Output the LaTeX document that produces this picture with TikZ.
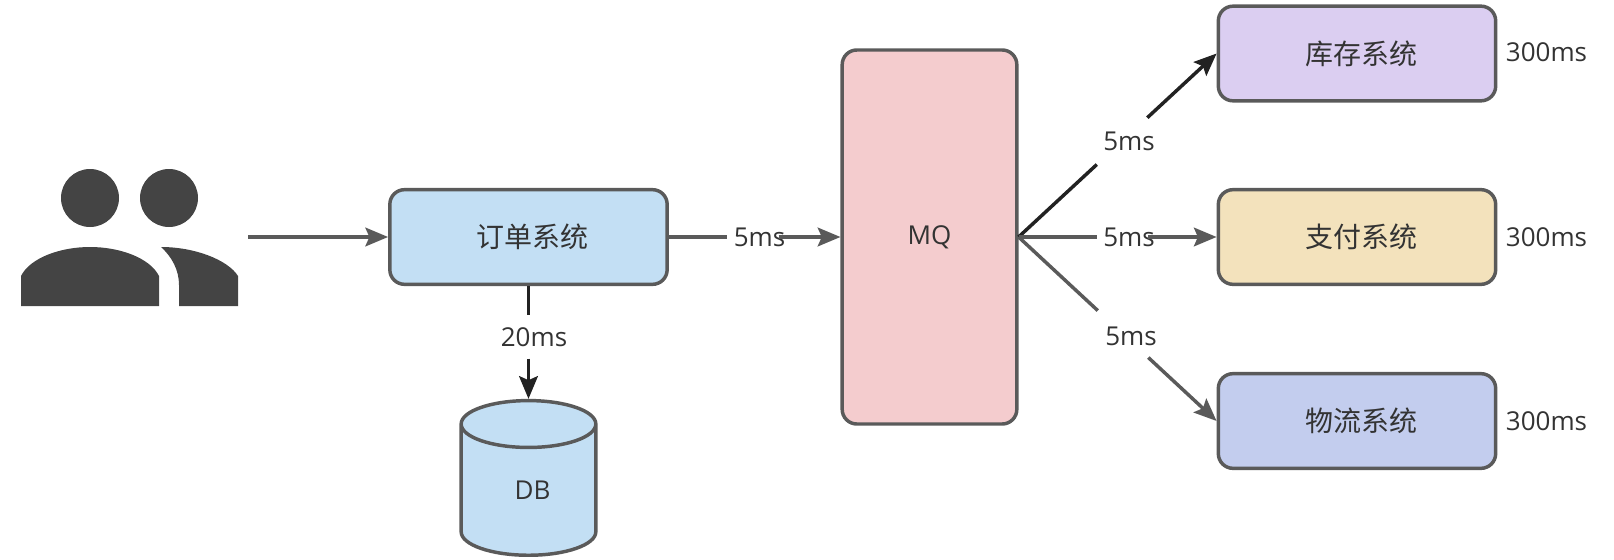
\documentclass[tikz,border=0pt]{standalone}
\usepackage{fontspec}
\setmainfont{Open Sans}
\newfontfamily\cjk{Noto Sans CJK SC}
\usepackage{tikz}
\usetikzlibrary{shapes.geometric, arrows.meta, positioning, calc}
\usepackage{xcolor}
\definecolor{edgegray}{RGB}{90,90,90}
\definecolor{linedark}{RGB}{34,34,34}
\definecolor{textdark}{RGB}{51,51,51}
\definecolor{icongray}{RGB}{68,68,68}
\definecolor{sysblue}{RGB}{195,223,244}
\definecolor{mqpink}{RGB}{244,204,206}
\definecolor{syspurple}{RGB}{219,206,241}
\definecolor{sysyellow}{RGB}{243,226,188}
\definecolor{sysperi}{RGB}{195,205,238}
\tikzset{
  sysbox/.style={draw=edgegray,line width=2.6pt,rounded corners=11pt,minimum width=208pt,minimum height=71pt,inner sep=0pt,text=textdark,font=\fontsize{21}{24}\selectfont\cjk},
  timelabel/.style={text=textdark,font=\fontsize{19.5}{22}\selectfont,inner sep=0pt,outer sep=5pt},
  flow/.style={edgegray,line width=2.6pt,-{Stealth[length=17pt,width=14pt,inset=3pt]}},
  flowplain/.style={edgegray,line width=2.6pt},
}
\begin{document}
\begin{tikzpicture}[x=0.75pt, y=-0.75pt]
        \useasboundingbox (0,0) rectangle (1614,560);
        % Users icon
        \fill[icongray] (90,198) circle (29);
        \fill[icongray] (169,198) circle (29);
        \fill[icongray] (21,306) -- (21,276) .. controls (30,258) and (60,247) .. (90,247)
          .. controls (120,247) and (150,258) .. (159,276) -- (159,306) -- cycle;
        \fill[icongray] (161,247) .. controls (195,247) and (228,260) .. (238,276) -- (238,306)
          -- (179,306) -- (179,285) .. controls (179,270) and (172,257) .. (161,247) -- cycle;
        \coordinate (users) at (248,237);
        % Boxes
        \node[sysbox,fill=sysblue] (order) at (528.5,237) {\hspace*{6pt}订单系统};
        \node[sysbox,fill=mqpink,minimum width=131pt,minimum height=280.5pt,font=\fontsize{19.5}{22}\selectfont] (mq) at (929.5,237) {MQ};
        \node[sysbox,fill=syspurple] (stock) at (1357,53.5) {\hspace*{6pt}库存系统};
        \node[sysbox,fill=sysyellow] (pay) at (1357,237) {\hspace*{6pt}支付系统};
        \node[sysbox,fill=sysperi] (ship) at (1357,421) {\hspace*{6pt}物流系统};
        % Database
        \node[draw=edgegray,line width=2.6pt,fill=sysblue,cylinder,shape border rotate=90,aspect=1.07,
          minimum width=101pt,minimum height=116pt,inner sep=0pt,text=textdark,font=\fontsize{19.5}{22}\selectfont] (db) at (528.5,490.5) {\hspace*{6pt}\raisebox{-2pt}{DB}};
        % Timing labels
        \node[timelabel,outer ysep=9pt] (t20) at (534,337) {20ms};
        \node[timelabel] (tmq) at (759.5,237) {5ms};
        \node[timelabel] (tstock) at (1129,141) {5ms};
        \node[timelabel] (tpay) at (1129,237) {5ms};
        \node[timelabel] (tship) at (1131,336) {5ms};
        \foreach \y/\n in {52/a,237/b,421/c}
          \node[timelabel,outer sep=0pt] (cost\n) at (1546.5,\y) {300ms};
        % Connectors
        \draw[flow] (users) -- (order.west);
        \draw[flowplain] (order.east) -- (tmq.west);
        \draw[flow,shorten <=-10pt] (tmq.east) -- (mq.west);
        \draw[flowplain,linedark] (order.south) -- (order.south |- t20.north);
        \draw[flow,linedark] (db.north |- t20.south) -- (db.north);
        \draw[flowplain,linedark] (mq.east) -- ($(mq.east)!.395!(stock.west)$);
        \draw[flow,linedark] ($(mq.east)!.65!(stock.west)$) -- (stock.west);
        \draw[flowplain] (mq.east) -- (tpay.west);
        \draw[flow,shorten <=-10pt] (tpay.east) -- (pay.west);
        \draw[flowplain] (mq.east) -- ($(mq.east)!.40!(ship.west)$);
        \draw[flow] ($(mq.east)!.655!(ship.west)$) -- (ship.west);
\end{tikzpicture}
\end{document}
